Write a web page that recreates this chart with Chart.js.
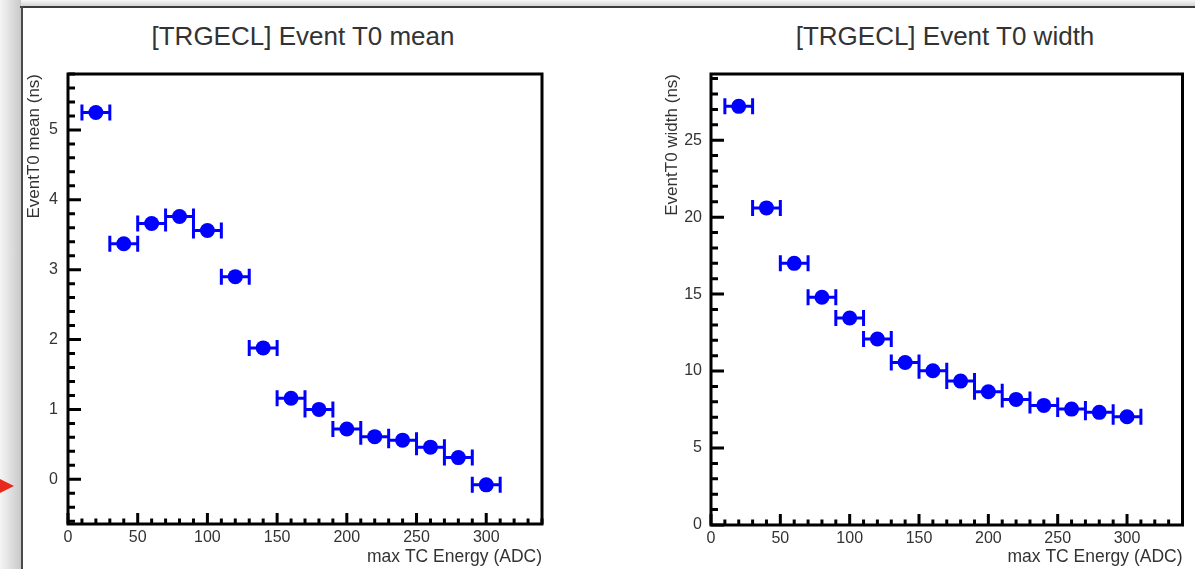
<!DOCTYPE html>
<html>
<head>
<meta charset="utf-8">
<title>TRGECL Event T0</title>
<script src="https://cdn.jsdelivr.net/npm/chart.js@4.4.1/dist/chart.umd.min.js"></script>
<style>
  html, body { margin: 0; padding: 0; background: #fff; }
  #page { position: relative; width: 1195px; height: 569px; overflow: hidden; background: #fff;
          font-family: "Liberation Sans", Arial, sans-serif; }
  .shade-top { position: absolute; left: 0; top: 0; width: 1195px; height: 6px;
               background: linear-gradient(#f7f7f7, #d4d4d4); }
  .shade-left { position: absolute; left: 0; top: 0; width: 21px; height: 569px;
                background: linear-gradient(to right, #f5f5f5, #c9c9c9); }
  .frame-top { position: absolute; left: 20px; top: 6px; width: 1175px; height: 2px; background: #3c3c3c; }
  .frame-left { position: absolute; left: 21px; top: 6px; width: 2px; height: 563px; background: #4a4a4a; }
  .pointer { position: absolute; left: 0; top: 479px; width: 0; height: 0;
             border-top: 7px solid transparent; border-bottom: 7px solid transparent;
             border-left: 14px solid #e8291c; }
  .panel-title { position: absolute; top: 21px; font-size: 26px; color: #333;
                 transform: translateX(-50%); white-space: nowrap; }
  canvas { position: absolute; }
</style>
</head>
<body>
<div id="page">
  <div class="shade-top"></div>
  <div class="shade-left"></div>
  <div class="frame-top"></div>
  <div class="frame-left"></div>
  <div class="pointer"></div>
  <div class="panel-title" style="left:303px">[TRGECL] Event T0 mean</div>
  <div class="panel-title" style="left:945px">[TRGECL] Event T0 width</div>
  <canvas id="meanChart" width="578" height="561" style="left:22px; top:8px; width:578px; height:561px"></canvas>
  <canvas id="widthChart" width="590" height="561" style="left:600px; top:8px; width:590px; height:561px"></canvas>
</div>

<script>
// bin centres of max TC energy (ADC) and their half widths
const energyBins = [20, 40, 60, 80, 100, 120, 140, 160, 180, 200, 220, 240, 260, 280, 300];
const energyHalfWidth = 10;

// event T0 mean and width per bin (ns)
const t0Mean = [5.25, 3.37, 3.66, 3.76, 3.56, 2.90, 1.88, 1.16, 1.00, 0.72, 0.61, 0.56, 0.46, 0.31, -0.08];
const t0Width = [27.2, 20.6, 17.0, 14.8, 13.45, 12.08, 10.56, 10.02, 9.35, 8.66, 8.16, 7.77, 7.53, 7.32, 7.03];

// labelled ticks
const energyTicks = [0, 50, 100, 150, 200, 250, 300];
const meanTicks = [0, 1, 2, 3, 4, 5];
const widthTicks = [0, 5, 10, 15, 20, 25];

Chart.defaults.font.family = '"Liberation Sans", Arial, sans-serif';

const markerBlue = '#0000ff';
const textGray = '#333';

// box frame plus inward major/minor ticks, ROOT style
const rootAxes = {
    id: 'rootAxes',
    afterDraw(chart, args, opts) {
        const { ctx, chartArea: a, scales: { x, y } } = chart;
        const isMajor = (v, step) => Math.abs(v / step - Math.round(v / step)) < 1e-6;
        ctx.save();
        ctx.strokeStyle = '#000';
        ctx.lineWidth = 3;
        ctx.beginPath();
        // x axis ticks, pointing up
        const x0 = Math.ceil(x.min / opts.xMinor - 1e-9);
        const x1 = Math.floor(x.max / opts.xMinor + 1e-9);
        for (let i = x0; i <= x1; i++) {
            const v = i * opts.xMinor;
            const px = x.getPixelForValue(v);
            const len = isMajor(v, opts.xMajor) ? opts.xMajorLen : opts.xMinorLen;
            ctx.moveTo(px, a.bottom);
            ctx.lineTo(px, a.bottom - len);
        }
        // y axis ticks, pointing right
        const y0 = Math.ceil(y.min / opts.yMinor - 1e-9);
        const y1 = Math.floor(y.max / opts.yMinor + 1e-9);
        for (let i = y0; i <= y1; i++) {
            const v = i * opts.yMinor;
            const py = y.getPixelForValue(v);
            const len = isMajor(v, opts.yMajor) ? opts.yMajorLen : opts.yMinorLen;
            ctx.moveTo(a.left, py);
            ctx.lineTo(a.left + len, py);
        }
        ctx.stroke();
        ctx.strokeRect(a.left, a.top, a.right - a.left, a.bottom - a.top);
        ctx.restore();
    }
};

// horizontal error bars with end caps, drawn under the markers
const xErrorBars = {
    id: 'xErrorBars',
    beforeDatasetsDraw(chart, args, opts) {
        const { ctx, scales: { x, y } } = chart;
        const ds = chart.data.datasets[0];
        ctx.save();
        ctx.strokeStyle = ds.borderColor;
        ctx.lineWidth = 3;
        ctx.beginPath();
        ds.data.forEach(p => {
            const xl = x.getPixelForValue(p.x - p.xErr);
            const xr = x.getPixelForValue(p.x + p.xErr);
            const py = y.getPixelForValue(p.y);
            ctx.moveTo(xl, py);
            ctx.lineTo(xr, py);
            ctx.moveTo(xl, py - opts.cap);
            ctx.lineTo(xl, py + opts.cap);
            ctx.moveTo(xr, py - opts.cap);
            ctx.lineTo(xr, py + opts.cap);
        });
        ctx.stroke();
        ctx.restore();
    }
};

function drawPanel(canvasId, values, cfg) {
    const points = energyBins.map((e, i) => ({ x: e, y: values[i], xErr: energyHalfWidth }));

    return new Chart(document.getElementById(canvasId), {
        type: 'scatter',
        data: {
            datasets: [{
                data: points,
                backgroundColor: markerBlue,
                borderColor: markerBlue,
                borderWidth: 0,
                pointRadius: 7.5,
                pointHoverRadius: 7.5
            }]
        },
        options: {
            responsive: false,
            animation: false,
            events: [],
            layout: { padding: cfg.padding },
            plugins: {
                legend: { display: false },
                tooltip: { enabled: false },
                rootAxes: {
                    xMinor: 10, xMajor: 50, xMajorLen: 11, xMinorLen: 5.5,
                    yMinor: cfg.yMinor, yMajor: cfg.yMajor, yMajorLen: 13, yMinorLen: 7
                },
                xErrorBars: { cap: 8 }
            },
            scales: {
                x: {
                    type: 'linear',
                    min: 0,
                    max: 340,
                    grid: { display: false, drawTicks: false },
                    border: { display: false },
                    afterBuildTicks: s => { s.ticks = energyTicks.map(v => ({ value: v })); },
                    afterFit: s => { s.height = cfg.xHeight; },
                    ticks: { color: textGray, font: { size: 16 }, padding: 4, maxRotation: 0, autoSkip: false },
                    title: {
                        display: true,
                        text: 'max TC Energy (ADC)',
                        align: 'end',
                        color: textGray,
                        font: { size: 17.5 },
                        padding: { top: 0, bottom: 1 }
                    }
                },
                y: {
                    type: 'linear',
                    min: cfg.yMin,
                    max: cfg.yMax,
                    grid: { display: false, drawTicks: false },
                    border: { display: false },
                    afterBuildTicks: s => { s.ticks = cfg.yTicks.map(v => ({ value: v })); },
                    afterFit: s => { s.width = cfg.yWidth; },
                    ticks: { color: textGray, font: { size: 16 }, padding: cfg.yLabelPad, autoSkip: false },
                    title: {
                        display: true,
                        text: cfg.yTitle,
                        align: 'end',
                        color: textGray,
                        font: { size: 17 },
                        padding: { top: 2, bottom: 0 }
                    }
                }
            }
        },
        plugins: [rootAxes, xErrorBars]
    });
}

drawPanel('meanChart', t0Mean, {
    padding: { left: 0, top: 66, right: 58, bottom: 0 },
    yWidth: 46, xHeight: 45, yLabelPad: 10,
    yMin: -0.64, yMax: 5.80, yTicks: meanTicks, yMajor: 1, yMinor: 0.2,
    yTitle: 'EventT0 mean (ns)'
});

drawPanel('widthChart', t0Width, {
    padding: { left: 60, top: 66, right: 5, bottom: 0 },
    yWidth: 51, xHeight: 44, yLabelPad: 9,
    yMin: 0, yMax: 29.3, yTicks: widthTicks, yMajor: 5, yMinor: 1,
    yTitle: 'EventT0 width (ns)'
});
</script>
</body>
</html>
